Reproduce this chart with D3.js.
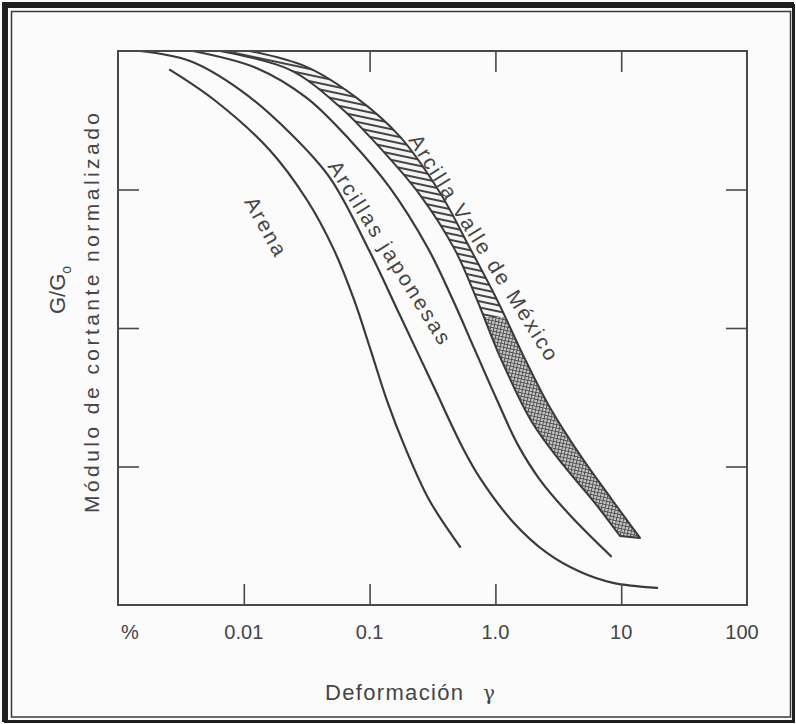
<!DOCTYPE html>
<html>
<head>
<meta charset="utf-8">
<script src="https://cdn.jsdelivr.net/npm/d3@7"></script>
<style>
	html, body { margin: 0; padding: 0; background: #f3f3f3; }
	svg { display: block; }
	text { font-family: "Liberation Sans", Arial, sans-serif; fill: #454545; }
</style>
</head>
<body>
<svg id="chart"></svg>
<script>
// strain in %, G/Go
const arenaStrain = [0.00259, 0.0058, 0.0161, 0.0318, 0.0521, 0.0752, 0.102, 0.137, 0.195, 0.297, 0.524];
const arenaRatio  = [0.966, 0.912, 0.821, 0.731, 0.641, 0.551, 0.46, 0.37, 0.28, 0.19, 0.105];

const japLowStrain = [0.0015, 0.00373, 0.00933, 0.0233, 0.0484, 0.1007, 0.175, 0.319, 0.552, 0.755, 1.38, 2.57, 4.7, 8.61, 19.3];
const japLowRatio  = [1.0, 0.982, 0.93, 0.852, 0.771, 0.637, 0.522, 0.397, 0.283, 0.229, 0.15, 0.094, 0.06, 0.04, 0.031];

const japHighStrain = [0.00395, 0.0127, 0.0318, 0.0699, 0.1453, 0.291, 0.452, 0.688, 1.03, 1.51, 2.26, 3.92, 8.3];
const japHighRatio  = [1.0, 0.969, 0.915, 0.839, 0.753, 0.644, 0.554, 0.46, 0.37, 0.289, 0.226, 0.162, 0.088];

const mexicoUpperStrain = [0.0112, 0.0318, 0.0794, 0.175, 0.363, 0.628, 1.03, 1.66, 2.72, 4.7, 8.45, 14.1];
const mexicoUpperRatio  = [1.0, 0.971, 0.915, 0.845, 0.744, 0.644, 0.551, 0.451, 0.356, 0.271, 0.19, 0.121];

const mexicoLowerStrain = [0.00647, 0.0233, 0.0582, 0.1064, 0.252, 0.477, 0.714, 1.088, 1.954, 3.51, 6.08, 9.78];
const mexicoLowerRatio  = [1.0, 0.966, 0.899, 0.839, 0.74, 0.641, 0.551, 0.448, 0.33, 0.251, 0.186, 0.1245];

const curveLabels = ['Arena', 'Arcillas japonesas', 'Arcilla Valle de México'];

const xTickValues = [0.01, 0.1, 1, 10];
const xTopTickValues = [0.1, 1, 10];
const xLabelValues = [0.001, 0.01, 0.1, 1, 10, 100];
const xLabelTexts = ['%', '0.01', '0.1', '1.0', '10', '100'];
const yTickValues = [0.25, 0.5, 0.75];

const width = 796, height = 724;
const plot = { left: 118, right: 747, top: 51, bottom: 605 };
const ink = '#3a3a3a';

const xScale = d3.scaleLog()
	.domain([0.001, 100])
	.range([plot.left, plot.right]);

const yScale = d3.scaleLinear()
	.domain([0, 1])
	.range([plot.bottom, plot.top]);

const svg = d3.select('#chart')
	.attr('width', width)
	.attr('height', height);

// paper + frame
svg.append('rect')
	.attr('x', 0).attr('y', 0)
	.attr('width', width).attr('height', height)
	.attr('fill', '#fbfbfb');

svg.append('rect')
	.attr('x', 5.5).attr('y', 5.5)
	.attr('width', 788).attr('height', 716)
	.attr('fill', 'none')
	.attr('stroke', '#1f1f1f')
	.attr('stroke-width', 3);

svg.append('path')
	.attr('d', 'M5,722 L5,5 L794,5')
	.attr('fill', 'none')
	.attr('stroke', '#1f1f1f')
	.attr('stroke-width', 6);

svg.append('rect')
	.attr('x', 11.5).attr('y', 11.5)
	.attr('width', 779).attr('height', 705.5)
	.attr('fill', 'none')
	.attr('stroke', '#3a3a3a')
	.attr('stroke-width', 1.5);

// hatch patterns for the Mexico City clay band
const defs = svg.append('defs');

const stripes = defs.append('pattern')
	.attr('id', 'stripes')
	.attr('patternUnits', 'userSpaceOnUse')
	.attr('width', 6).attr('height', 6)
	.attr('patternTransform', 'rotate(12)');
stripes.append('rect').attr('width', 6).attr('height', 6).attr('fill', '#f4f4f4');
stripes.append('line')
	.attr('x1', 0).attr('y1', 3).attr('x2', 6).attr('y2', 3)
	.attr('stroke', '#444').attr('stroke-width', 2);

const grid = defs.append('pattern')
	.attr('id', 'grid')
	.attr('patternUnits', 'userSpaceOnUse')
	.attr('width', 3.4).attr('height', 3.4)
	.attr('patternTransform', 'rotate(12)');
grid.append('rect').attr('width', 3.4).attr('height', 3.4).attr('fill', '#c6c6c6');
grid.append('path')
	.attr('d', 'M0,0.5 H3.4 M0.5,0 V3.4')
	.attr('stroke', '#4a4a4a').attr('stroke-width', 0.9);

const hatchSplit = 0.52;
defs.append('clipPath').attr('id', 'clipUpper')
	.append('rect')
	.attr('x', plot.left).attr('y', plot.top)
	.attr('width', plot.right - plot.left)
	.attr('height', yScale(hatchSplit) - plot.top);
defs.append('clipPath').attr('id', 'clipLower')
	.append('rect')
	.attr('x', plot.left).attr('y', yScale(hatchSplit))
	.attr('width', plot.right - plot.left)
	.attr('height', plot.bottom - yScale(hatchSplit));

const line = d3.line()
	.x(d => xScale(d[0]))
	.y(d => yScale(d[1]))
	.curve(d3.curveCatmullRom.alpha(0.5));

const pairs = (xs, ys) => xs.map((v, i) => [v, ys[i]]);

// band
const upper = pairs(mexicoUpperStrain, mexicoUpperRatio);
const lower = pairs(mexicoLowerStrain, mexicoLowerRatio).reverse();
const bandPath = line(upper) + 'L' + line(lower).slice(1) + 'Z';

svg.append('path')
	.attr('d', bandPath)
	.attr('fill', 'url(#stripes)')
	.attr('clip-path', 'url(#clipUpper)');
svg.append('path')
	.attr('d', bandPath)
	.attr('fill', 'url(#grid)')
	.attr('clip-path', 'url(#clipLower)');
svg.append('path')
	.attr('d', bandPath)
	.attr('fill', 'none')
	.attr('stroke', ink)
	.attr('stroke-width', 2)
	.attr('stroke-linejoin', 'round');

// single curves
const curves = [
	pairs(arenaStrain, arenaRatio),
	pairs(japLowStrain, japLowRatio),
	pairs(japHighStrain, japHighRatio)
];

svg.selectAll('.curve')
	.data(curves)
	.enter()
	.append('path')
	.attr('class', 'curve')
	.attr('d', line)
	.attr('fill', 'none')
	.attr('stroke', ink)
	.attr('stroke-width', 2.2)
	.attr('stroke-linecap', 'round');

// axes box and inward ticks
const axisStroke = '#4a4a4a';
svg.append('rect')
	.attr('x', plot.left).attr('y', plot.top)
	.attr('width', plot.right - plot.left)
	.attr('height', plot.bottom - plot.top)
	.attr('fill', 'none')
	.attr('stroke', axisStroke)
	.attr('stroke-width', 2);

const tickLen = 21;
const styleAxis = g => {
	g.select('.domain').remove();
	g.selectAll('.tick line').attr('stroke', axisStroke).attr('stroke-width', 1.6);
	g.selectAll('.tick text').remove();
};

svg.append('g')
	.attr('transform', `translate(0,${plot.bottom})`)
	.call(d3.axisTop(xScale).tickValues(xTickValues).tickSize(tickLen))
	.call(styleAxis);

svg.append('g')
	.attr('transform', `translate(0,${plot.top})`)
	.call(d3.axisBottom(xScale).tickValues(xTopTickValues).tickSize(tickLen))
	.call(styleAxis);

svg.append('g')
	.attr('transform', `translate(${plot.left},0)`)
	.call(d3.axisRight(yScale).tickValues(yTickValues).tickSize(tickLen))
	.call(styleAxis);

svg.append('g')
	.attr('transform', `translate(${plot.right},0)`)
	.call(d3.axisLeft(yScale).tickValues(yTickValues).tickSize(tickLen))
	.call(styleAxis);

// x tick labels
svg.selectAll('.xlabel')
	.data(xLabelValues)
	.enter()
	.append('text')
	.attr('class', 'xlabel')
	.attr('x', (d, i) => xScale(d) + (i === 0 ? 12 : (i === xLabelValues.length - 1 ? -5 : 0)))
	.attr('y', 639)
	.attr('text-anchor', 'middle')
	.attr('font-size', 20)
	.text((d, i) => xLabelTexts[i]);

// x title
const xTitle = svg.append('text')
	.attr('x', 325)
	.attr('y', 700)
	.attr('font-size', 22);
xTitle.append('tspan')
	.attr('textLength', 138)
	.text('Deformación');
xTitle.append('tspan')
	.attr('x', 483)
	.attr('font-family', '"DejaVu Serif", serif')
	.attr('font-size', 20)
	.text('γ');

// y title
const yTitle = svg.append('text')
	.attr('transform', 'translate(65,290) rotate(-90)')
	.attr('text-anchor', 'middle')
	.attr('font-size', 22);
yTitle.append('tspan').text('G/G');
yTitle.append('tspan').attr('font-size', 14).attr('dy', 6).text('o');

svg.append('text')
	.attr('transform', 'translate(99,313) rotate(-90)')
	.attr('text-anchor', 'middle')
	.attr('font-size', 21)
	.attr('textLength', 400)
	.attr('lengthAdjust', 'spacing')
	.text('Módulo de cortante normalizado');

// curve labels, rotated along the curves
const labelAnchors = [
	{ x: 0.0150, y: 0.684, angle: 61, len: 64 },
	{ x: 0.145, y: 0.637, angle: 58, len: 212 },
	{ x: 0.811, y: 0.646, angle: 58, len: 262 }
];

svg.selectAll('.clabel')
	.data(curveLabels)
	.enter()
	.append('text')
	.attr('class', 'clabel')
	.attr('transform', (d, i) => `translate(${xScale(labelAnchors[i].x)},${yScale(labelAnchors[i].y)}) rotate(${labelAnchors[i].angle})`)
	.attr('text-anchor', 'middle')
	.attr('dy', '0.36em')
	.attr('font-size', 21)
	.attr('textLength', (d, i) => labelAnchors[i].len)
	.attr('lengthAdjust', 'spacing')
	.text(d => d);
</script>
</body>
</html>
